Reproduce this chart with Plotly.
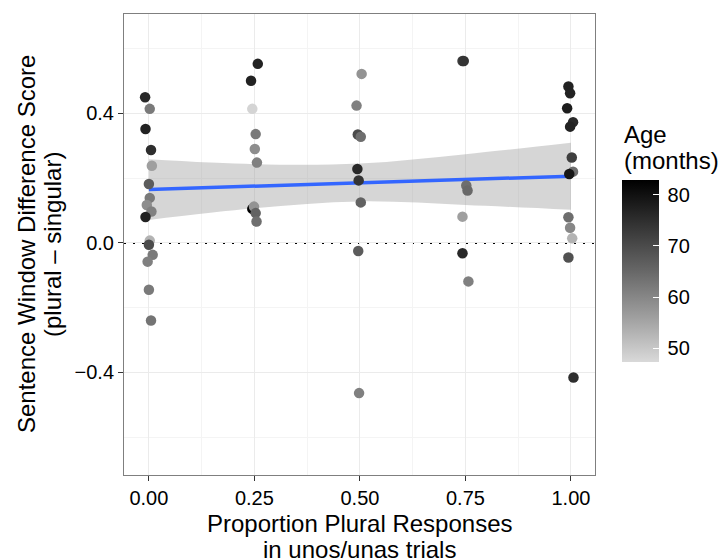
import plotly.graph_objects as go

# ---------------- data ----------------
# jittered proportion of plural responses (x), difference score (y), age in months
prop_x = [
    -0.009, 0.002, -0.008, 0.005, 0.007, 0.000, 0.002, -0.005, 0.006, -0.008, 0.002, 0.000, 0.009, -0.003, 0.000, 0.005,
    0.258, 0.242, 0.245, 0.253, 0.251, 0.256, 0.245, 0.249, 0.253, 0.255,
    0.504, 0.492, 0.495, 0.502, 0.494, 0.497, 0.502, 0.496, 0.498,
    0.743, 0.746, 0.752, 0.755, 0.743, 0.743, 0.757,
    0.994, 0.998, 0.991, 1.005, 0.998, 1.002, 1.005, 0.996, 0.994, 0.998, 1.003, 0.994, 1.006,
]
diff_score = [
    0.450, 0.414, 0.352, 0.287, 0.238, 0.182, 0.139, 0.117, 0.097, 0.080, 0.007, -0.006, -0.037, -0.058, -0.145, -0.240,
    0.553, 0.501, 0.414, 0.336, 0.290, 0.248, 0.105, 0.112, 0.092, 0.066,
    0.522, 0.424, 0.335, 0.328, 0.228, 0.193, 0.125, -0.025, -0.464,
    0.562, 0.562, 0.177, 0.162, 0.081, -0.032, -0.119,
    0.483, 0.462, 0.416, 0.373, 0.359, 0.264, 0.220, 0.213, 0.079, 0.047, 0.014, -0.045, -0.416,
]
age_months = [
    76, 62, 77, 75, 56, 67, 62, 59, 61, 77, 53, 70, 62, 61, 62, 63,
    77, 77, 48, 62, 59, 61, 83, 58, 66, 64,
    58, 61, 70, 64, 76, 74, 66, 67, 61,
    72, 74, 64, 65, 56, 76, 61,
    77, 77, 78, 76, 77, 72, 64, 79, 64, 60, 53, 69, 75,
]

# fitted linear trend and its confidence band
fit_x = [0.0, 1.0]
fit_y = [0.165, 0.206]
band_x = [0.0, 0.25, 0.5, 0.75, 1.0]
band_upper = [0.258, 0.243, 0.245, 0.274, 0.309]
band_lower = [0.071, 0.107, 0.128, 0.117, 0.102]

x_tickvals = [0.0, 0.25, 0.5, 0.75, 1.0]
x_ticktext = ["0.00", "0.25", "0.50", "0.75", "1.00"]
x_minor = [0.125, 0.375, 0.625, 0.875]
y_tickvals = [-0.4, 0.0, 0.4]
y_ticktext = ["\u22120.4", "0.0", "0.4"]
y_minor = [-0.6, -0.2, 0.2, 0.6]
age_tickvals = [50, 60, 70, 80]
age_range = [47.3, 82.9]

FONT = "Liberation Sans, Arial, Helvetica, sans-serif"

# plot area in pixels
W, H = 724, 558
L, R, T, B = 124, 595, 14, 475

fig = go.Figure()

# confidence band
fig.add_trace(go.Scatter(x=band_x, y=band_lower, mode="lines", line=dict(width=0, shape="spline"),
                         hoverinfo="skip", showlegend=False))
fig.add_trace(go.Scatter(x=band_x, y=band_upper, mode="lines", line=dict(width=0, shape="spline"),
                         fill="tonexty", fillcolor="rgba(153,153,153,0.4)",
                         hoverinfo="skip", showlegend=False))
# regression line
fig.add_trace(go.Scatter(x=fit_x, y=fit_y, mode="lines", line=dict(color="#3366FF", width=3.5),
                         showlegend=False))
# points
greys = [[0.0, "#d9d9d9"], [0.25, "#9e9e9e"], [0.5, "#676767"], [0.75, "#343434"], [1.0, "#000000"]]
fig.add_trace(go.Scatter(
    x=prop_x, y=diff_score, mode="markers", showlegend=False,
    marker=dict(size=10.5, color=age_months, colorscale=greys, cmin=age_range[0], cmax=age_range[1],
                line=dict(width=0), showscale=True,
                colorbar=dict(
                    x=(622 - L) / (R - L), xanchor="left", xpad=0,
                    y=1 - ((180 + 362) / 2 - T) / (B - T), yanchor="middle", ypad=0,
                    len=182, lenmode="pixels", thickness=37, thicknessmode="pixels",
                    outlinewidth=0, tickvals=age_tickvals,
                    ticktext=["\u2009" + str(v) for v in age_tickvals],
                    ticks="inside", ticklen=6, tickcolor="white", tickwidth=1,
                    tickfont=dict(family=FONT, size=20, color="black"),
                ))))

# dotted zero line
fig.add_shape(type="line", xref="paper", x0=0, x1=1, yref="y", y0=0, y1=0,
              line=dict(color="black", width=2, dash="2px,7px"), layer="below")

axis_common = dict(showline=True, mirror=True, linecolor="#7f7f7f", linewidth=1,
                   ticks="outside", ticklen=5, tickcolor="#333333", tickwidth=1,
                   showgrid=True, gridcolor="#ebebeb", gridwidth=1, zeroline=False,
                   tickfont=dict(family=FONT, size=20, color="black"))

fig.update_layout(
    width=W, height=H,
    margin=dict(l=L, r=W - R, t=T, b=H - B),
    paper_bgcolor="white", plot_bgcolor="white",
    xaxis=dict(range=[-0.059, 1.057], tickvals=x_tickvals, ticktext=x_ticktext,
               minor=dict(tickvals=x_minor, showgrid=True, gridcolor="#f4f4f4", gridwidth=1, ticks=""),
               **axis_common),
    yaxis=dict(range=[-0.717, 0.707], tickvals=y_tickvals, ticktext=y_ticktext,
               minor=dict(tickvals=y_minor, showgrid=True, gridcolor="#f4f4f4", gridwidth=1, ticks=""),
               **axis_common),
    font=dict(family=FONT, color="black"),
)

title_font = dict(family=FONT, size=24, color="black")
ann = [
    dict(text="Proportion Plural Responses", x=0.5, y=0, yshift=-(523 - B)),
    dict(text="in unos/unas trials", x=0.5, y=0, yshift=-(549 - B)),
]
for a in ann:
    fig.add_annotation(xref="paper", yref="paper", xanchor="center", yanchor="middle",
                       showarrow=False, font=title_font, **a)
for txt, px in [("Sentence Window Difference Score", 26.5), ("(plural \u2013 singular)", 52.5)]:
    fig.add_annotation(xref="paper", yref="paper", x=0, xshift=px - L, y=0.5, textangle=-90,
                       xanchor="center", yanchor="middle", showarrow=False, text=txt, font=title_font)
for txt, py in [("Age", 134), ("(months)", 160)]:
    fig.add_annotation(xref="paper", yref="paper", x=0, xshift=622 - L, y=1, yshift=-(py - T),
                       xanchor="left", yanchor="middle", showarrow=False, text=txt, font=title_font)

fig.write_html("out.html", config={"displayModeBar": False},
               post_script="document.body.style.margin='0px';document.body.style.overflow='hidden';")
